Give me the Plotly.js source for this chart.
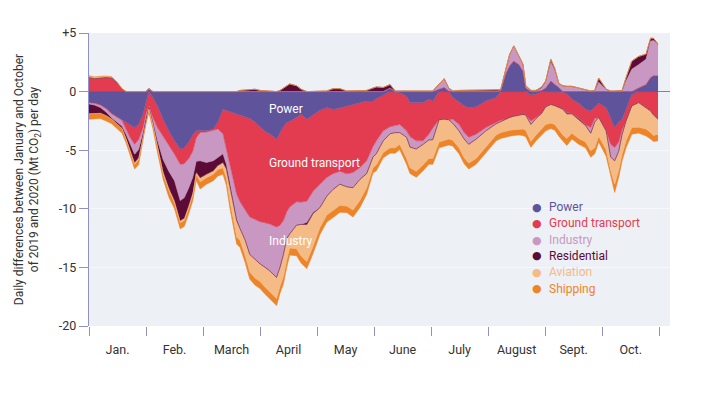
<!DOCTYPE html>
<html>
<head>
<meta charset="utf-8">
<script src="https://cdn.plot.ly/plotly-3.0.1.min.js"></script>
<style>
  html, body { margin: 0; padding: 0; background: #ffffff; }
  #chart { width: 707px; height: 398px; }
</style>
</head>
<body>
<div id="chart"></div>
<script>
// Time in months since 1 January (each month drawn with equal width)
const t = [0.00,0.10,0.20,0.30,0.40,0.50,0.58,0.65,0.72,0.80,0.87,0.95,1.00,1.05,1.12,1.20,1.30,1.40,1.50,1.60,1.67,1.75,1.82,1.88,1.95,2.06,2.18,2.26,2.35,2.41,2.47,2.59,2.65,2.74,2.82,2.91,3.00,3.09,3.17,3.29,3.35,3.41,3.47,3.52,3.64,3.72,3.82,3.93,4.05,4.17,4.28,4.40,4.52,4.63,4.75,4.87,4.98,5.04,5.16,5.28,5.37,5.45,5.57,5.63,5.74,5.86,5.96,6.03,6.14,6.23,6.31,6.38,6.49,6.58,6.66,6.79,6.96,7.14,7.22,7.31,7.38,7.45,7.54,7.61,7.66,7.75,7.84,7.94,8.01,8.10,8.17,8.24,8.31,8.38,8.47,8.59,8.71,8.80,8.87,8.94,9.07,9.15,9.22,9.29,9.35,9.42,9.52,9.64,9.77,9.85,9.90,9.98];

// Daily differences 2020 vs 2019 (Mt CO2 per day) by sector
const power = [-0.95,-1.0,-1.15,-1.45,-1.9,-2.2,-2.45,-2.64,-2.9,-3.07,-2.8,-1.9,-0.9,0.25,-0.5,-1.2,-2.35,-3.35,-4.2,-4.9,-4.8,-4.3,-3.7,-3.35,-3.35,-3.35,-3.2,-2.6,-1.5,-1.6,-1.7,-1.95,-2.0,-2.2,-2.3,-2.6,-3.0,-3.4,-3.6,-4.06,-3.5,-3.0,-2.64,-2.55,-2.2,-1.93,-2.35,-2.0,-1.6,-1.36,-1.5,-1.4,-1.22,-1.1,-0.95,-0.8,-0.8,-0.6,-0.3,0.3,-0.05,-0.1,-0.4,-0.94,-0.94,-0.94,-0.65,-0.8,0.2,0.35,0.05,-0.5,-0.9,-1.2,-1.36,-1.3,-0.8,-0.5,0.1,1.5,2.2,2.6,2.3,1.75,0.3,-0.3,-0.2,0.1,0.3,0.9,0.6,0.35,-0.05,-0.2,-0.65,-1.0,-1.5,-1.65,-1.3,-1.0,-1.36,-2.35,-3.07,-2.6,-2.35,-1.5,-0.25,0.3,0.6,1.2,1.35,1.35];
const groundTransport = [1.2,1.1,1.15,1.2,1.15,0.7,0.2,-0.56,-1.0,-1.43,-1.3,-1.15,-1.0,-1.2,-1.7,-1.85,-1.45,-1.15,-1.15,-1.3,-1.35,-1.4,-1.4,-0.6,-0.15,-0.1,-0.1,-0.6,-2.1,-3.2,-4.5,-6.8,-7.4,-7.9,-8.4,-8.3,-8.1,-7.8,-7.7,-7.5,-7.9,-8.0,-7.6,-7.3,-7.2,-7.5,-7.0,-6.5,-6.3,-5.97,-5.5,-5.4,-5.8,-5.8,-5.55,-5.1,-3.9,-3.6,-3.05,-3.0,-2.85,-2.7,-2.95,-2.9,-3.26,-3.26,-2.98,-2.3,-2.4,-2.35,-2.4,-1.85,-1.88,-2.3,-2.54,-2.33,-2.27,-2.1,-2.45,-2.35,-2.2,-2.1,-2.0,-1.95,-2.0,-2.2,-2.0,-1.85,-1.3,-1.1,-1.2,-1.35,-1.45,-1.6,-1.25,-1.3,-1.35,-1.4,-1.0,-1.2,-2.0,-2.15,-1.7,-1.7,-0.9,-1.0,-0.97,-0.94,-1.4,-1.65,-2.0,-2.35];
const industry = [-0.1,-0.15,-0.2,-0.3,-0.35,-0.45,-0.5,-0.43,-0.6,-0.84,-0.85,-0.4,-0.25,-0.1,-0.35,-1.1,-2.0,-2.3,-2.25,-3.1,-2.9,-2.5,-2.2,-2.0,-2.4,-2.6,-2.6,-2.4,-1.7,-1.4,-1.6,-2.1,-2.3,-2.6,-3.2,-3.4,-3.6,-3.8,-4.0,-4.3,-3.6,-2.9,-2.3,-2.3,-2.0,-1.9,-1.8,-1.8,-2.0,-1.6,-1.35,-1.1,-1.1,-1.3,-1.0,-1.1,-0.9,-1.1,-0.85,-0.6,-0.6,-0.7,-0.55,-0.9,-0.7,-0.3,-0.5,-1.0,0.4,0.7,0.2,-0.35,-0.57,-0.55,-0.6,-0.43,-0.28,-0.15,-0.1,0.4,1.0,1.3,0.8,0.6,0.2,-0.3,-0.1,0.2,0.5,1.6,1.2,0.3,0.45,0.45,0.4,0.3,0.1,-0.5,-0.3,0.8,0.15,-1.1,-1.13,-0.8,-0.4,0.9,1.9,2.0,2.15,3.1,3.0,2.65];
const residential = [-0.85,-0.75,-0.5,-0.3,-0.1,-0.15,-0.2,-0.34,-0.5,-0.71,-0.7,-0.3,-0.15,-0.05,-0.15,-0.45,-1.0,-1.4,-1.7,-1.7,-1.75,-1.5,-1.3,-0.9,-1.45,-1.0,-0.85,-0.7,-0.75,-0.4,-0.3,-0.15,0.1,0.15,0.2,0.2,0.1,0.05,0.05,0.0,0.1,0.3,0.5,0.65,0.5,0.2,-0.2,-0.1,0.05,0.05,0.25,0.25,0.05,0.05,0.05,0.1,0.3,0.4,0.35,0.3,0.05,0.05,0.05,0.05,0.05,0.05,0.05,0.05,0.05,0.05,0.05,0.05,0.1,0.1,0.1,0.1,0.1,0.1,0.05,0.0,0.0,0.0,0.0,0.0,0.0,0.1,0.1,0.1,0.1,0.25,0.15,0.05,0.05,-0.1,0.05,-0.1,-0.05,0.05,0.1,0.35,0.05,0.05,0.05,0.05,0.1,0.3,0.7,0.7,0.45,0.25,0.2,0.05];
const aviation = [0.15,0.15,0.15,0.12,0.12,0.08,0.05,-0.05,-0.1,-0.15,-0.15,-0.15,-0.1,-0.15,-0.15,-0.15,-0.2,-0.2,-0.2,-0.2,-0.2,-0.2,-0.2,-0.2,-0.35,-0.3,-0.3,-0.35,-0.45,-0.8,-1.2,-1.4,-1.0,-1.3,-1.5,-1.6,-1.5,-1.7,-1.8,-1.8,-1.6,-1.9,-1.8,-1.2,-2.0,-2.7,-3.15,-2.8,-1.7,-1.6,-1.8,-1.8,-1.65,-1.9,-1.8,-1.2,-0.9,-0.95,-1.0,-1.2,-1.3,-1.0,-1.8,-1.75,-1.9,-1.75,-1.57,-1.6,-1.9,-1.8,-1.65,-1.45,-1.45,-1.6,-1.6,-1.64,-1.35,-0.95,-0.95,-1.0,-1.1,-1.15,-1.2,-1.25,-1.3,-1.45,-1.4,-1.3,-1.5,-1.6,-1.6,-1.9,-2.2,-2.1,-1.65,-1.6,-1.4,-1.5,-2.2,-1.6,-1.6,-1.15,-2.0,-1.6,-1.7,-1.7,-1.85,-2.1,-1.8,-1.85,-1.75,-1.28];
const shipping = [-0.45,-0.45,-0.45,-0.45,-0.4,-0.4,-0.4,-0.35,-0.4,-0.4,-0.45,-0.35,-0.3,-0.3,-0.3,-0.4,-0.45,-0.6,-0.5,-0.5,-0.5,-0.5,-0.5,-0.5,-0.6,-0.55,-0.55,-0.55,-0.55,-0.6,-0.6,-0.6,-0.6,-0.6,-0.6,-0.6,-0.6,-0.6,-0.6,-0.6,-0.6,-0.6,-0.6,-0.6,-0.6,-0.6,-0.6,-0.6,-0.6,-0.6,-0.6,-0.6,-0.55,-0.6,-0.6,-0.55,-0.45,-0.5,-0.45,-0.45,-0.45,-0.45,-0.5,-0.5,-0.5,-0.5,-0.5,-0.5,-0.5,-0.5,-0.5,-0.5,-0.5,-0.5,-0.5,-0.5,-0.5,-0.5,-0.5,-0.5,-0.5,-0.5,-0.5,-0.55,-0.55,-0.5,-0.5,-0.55,-0.55,-0.45,-0.5,-0.55,-0.55,-0.6,-0.5,-0.5,-0.5,-0.55,-0.5,-0.5,-0.55,-0.3,-0.7,-0.6,-0.55,-0.57,-0.56,-0.5,-0.58,-0.55,-0.5,-0.57];

const months = ['Jan.','Feb.','March','April','May','June','July','August','Sept.','Oct.'];
const yTickVals = [-20,-15,-10,-5,0,5];
const yTickText = ['-20','-15','-10','-5','0','+5'];

const sectorNames = ['Power','Ground transport','Industry','Residential','Aviation','Shipping'];
const sectorColors = ['#5f539c','#e33c50','#c898c3','#5c0a36','#f5bb86','#ed8428'];
const sectorValues = [power, groundTransport, industry, residential, aviation, shipping];

const traces = [];
['neg','pos'].forEach(function(group){
  sectorValues.forEach(function(vals, i){
    traces.push({
      type: 'scatter',
      mode: 'lines',
      x: t,
      y: vals.map(function(v){ return group === 'neg' ? Math.min(v, 0) : Math.max(v, 0); }),
      stackgroup: group,
      name: sectorNames[i],
      line: { width: 0.6, color: sectorColors[i], shape: 'linear' },
      fillcolor: sectorColors[i],
      showlegend: false,
      hoverinfo: 'skip'
    });
  });
});

const annotations = [
  { text: 'Power', x: 3.116, y: -1.47 },
  { text: 'Ground transport', x: 3.116, y: -6.05 },
  { text: 'Industry', x: 3.116, y: -12.73 }
].map(function(a){
  return { text: a.text, x: a.x, y: a.y, xref: 'x', yref: 'y', xanchor: 'left', yanchor: 'middle',
           showarrow: false, font: { family: 'Roboto, sans-serif', size: 12, color: '#ffffff' } };
});

// Legend drawn as annotations: coloured dot + coloured label
const legendY = [0.405, 0.3505, 0.2935, 0.239, 0.184, 0.127];
sectorNames.forEach(function(n, i){
  annotations.push({
    text: '●',
    xref: 'paper', yref: 'paper', x: 0.7706, y: legendY[i],
    xanchor: 'center', yanchor: 'middle', showarrow: false,
    font: { family: 'DejaVu Sans, sans-serif', size: 11, color: sectorColors[i] }
  });
  annotations.push({
    text: n,
    xref: 'paper', yref: 'paper', x: 0.7875, y: legendY[i],
    xanchor: 'left', yanchor: 'middle', showarrow: false,
    font: { family: 'Roboto, sans-serif', size: 12, color: sectorColors[i] }
  });
});

const axisPurple = '#8f8fcc';

const layout = {
  width: 707, height: 398,
  margin: { l: 89, r: 37, t: 33, b: 72 },
  paper_bgcolor: '#ffffff',
  plot_bgcolor: '#edf0f5',
  showlegend: false,
  font: { family: 'Roboto, sans-serif', size: 12.5, color: '#333333' },
  xaxis: {
    range: [0, 10.19],
    tickmode: 'array',
    tickvals: months.map(function(m, i){ return i + 0.5; }),
    ticktext: months,
    ticks: '',
    ticklabelstandoff: 14,
    showgrid: false,
    zeroline: false,
    showline: false,
    fixedrange: true,
    minor: { tickmode: 'linear', tick0: 0, dtick: 1, ticks: 'outside', ticklen: 9, tickwidth: 1, tickcolor: axisPurple, showgrid: false }
  },
  yaxis: {
    range: [-20, 5],
    tickmode: 'array',
    tickvals: yTickVals,
    ticktext: yTickText,
    ticks: 'outside',
    ticklen: 9,
    tickwidth: 1,
    tickcolor: axisPurple,
    showline: true,
    linecolor: axisPurple,
    linewidth: 1.2,
    showgrid: true,
    gridcolor: '#f7f8fb',
    gridwidth: 1,
    zeroline: true,
    zerolinecolor: '#7f7fc0',
    zerolinewidth: 1.3,
    fixedrange: true,
    title: {
      text: 'Daily differences between January and October<br>of 2019 and 2020 (Mt CO<sub>2</sub>) per day',
      font: { family: 'Roboto, sans-serif', size: 12, color: '#333333' },
      standoff: 17
    }
  },
  annotations: annotations
};

Plotly.newPlot('chart', traces, layout, { staticPlot: true, displayModeBar: false });
</script>
</body>
</html>
